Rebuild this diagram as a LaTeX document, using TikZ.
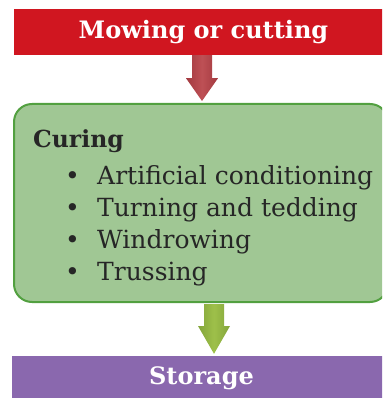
\documentclass[tikz,border=0pt]{standalone}
\usepackage{fontspec}
\setmainfont{DejaVu Serif}
\usetikzlibrary{calc}
\definecolor{rmain}{RGB}{208,22,32}
\definecolor{rdark}{RGB}{150,12,22}
\definecolor{pmain}{RGB}{138,104,174}
\definecolor{pdark}{RGB}{100,70,135}
\definecolor{gfill}{RGB}{160,199,148}
\definecolor{gline}{RGB}{82,160,64}
\definecolor{aredc}{RGB}{190,80,85}
\definecolor{arede}{RGB}{135,35,42}
\definecolor{agrnc}{RGB}{158,192,74}
\definecolor{agrne}{RGB}{105,138,44}
\pgfdeclareverticalshading{redbar}{100bp}{color(0bp)=(rdark); color(22bp)=(rmain); color(78bp)=(rmain); color(100bp)=(rdark)}
\pgfdeclareverticalshading{purplebar}{100bp}{color(0bp)=(pdark); color(22bp)=(pmain); color(78bp)=(pmain); color(100bp)=(pdark)}
\pgfdeclarehorizontalshading{redarrow}{100bp}{color(0bp)=(arede); color(50bp)=(aredc); color(100bp)=(arede)}
\pgfdeclarehorizontalshading{grnarrow}{100bp}{color(0bp)=(agrne); color(50bp)=(agrnc); color(100bp)=(agrne)}
\tikzset{
  bar/.style={minimum width=379pt, minimum height=45pt, inner sep=0pt, text=white,
    font=\fontsize{24}{28}\selectfont\bfseries},
  curebox/.style={draw=gline, line width=2pt, fill=gfill, rounded corners=18pt,
    minimum width=374pt, minimum height=198pt, inner sep=0pt},
  itemtext/.style={anchor=base west, inner sep=0pt, font=\fontsize{25}{28}\selectfont, text=black!85},
}
\begin{document}
\begin{tikzpicture}[x=1pt,y=-1pt]
\useasboundingbox (0,0) rectangle (382,398);
\clip (0,0) rectangle (382,398);
\node[bar, shading=redbar] (mow) at (203.5,32.5) {Mowing or cutting};
\node[curebox] (cur) at (201,203) {};
\node[bar, shading=purplebar, minimum height=44pt] (sto) at (201.5,378) {Storage};
\node[itemtext, font=\fontsize{23.5}{28}\selectfont\bfseries] (cname) at (33,147) {Curing};
\foreach \t [count=\i] in {Artificial conditioning, Turning and tedding, Windrowing, Trussing}{
  \node[itemtext] (b\i) at (65,{152+32*\i}) {•};
  \node[itemtext] (i\i) at (97,{152+32*\i}) {\t};
}
% arrows
\coordinate (a1) at (mow.south -| 202,0);
\coordinate (a1e) at (cur.north -| 202,0);
\shade[shading=redarrow] ($(a1)+(-10,0)$) -- ($(a1)+(10,0)$) -- ($(a1)+(10,23)$) -- ($(a1)+(16,23)$)
  -- ($(a1e)+(0,-2)$) -- ($(a1)+(-16,23)$) -- ($(a1)+(-10,23)$) -- cycle;
\coordinate (a2) at (cur.south -| 214,0);
\coordinate (a2e) at (sto.north -| 214,0);
\shade[shading=grnarrow] ($(a2)+(-10,1)$) -- ($(a2)+(10,1)$) -- ($(a2)+(10,23)$) -- ($(a2)+(16,23)$)
  -- ($(a2e)+(0,-2)$) -- ($(a2)+(-16,23)$) -- ($(a2)+(-10,23)$) -- cycle;
\end{tikzpicture}
\end{document}
